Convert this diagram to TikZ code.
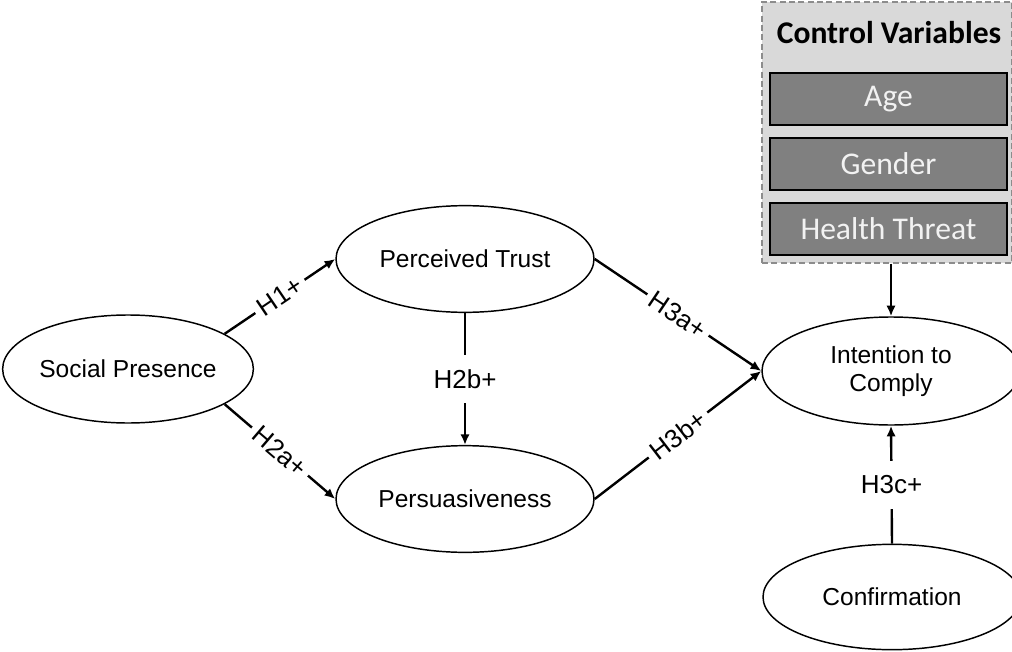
\documentclass[tikz,border=0pt]{standalone}
\usepackage{fontspec}
\setmainfont{Liberation Sans}
\newfontfamily\calibri{Carlito}
\usetikzlibrary{arrows.meta,shapes.geometric}

\begin{document}
\begin{tikzpicture}[x=0.75pt,y=-0.75pt,
	construct/.style={ellipse,draw,line width=1.1pt,fill=white,inner sep=0pt,align=center,
		minimum width=193.5pt,minimum height=80pt,font=\fontsize{18.4}{21}\selectfont},
	hyp/.style={fill=white,inner xsep=4pt,inner ysep=11pt,font=\fontsize{19.5}{22}\selectfont},
	link/.style={line width=1.8pt,-{Latex[length=8pt,width=7pt]}},
	ctrlbox/.style={draw=black!45,fill=black!15,line width=1pt,dash pattern=on 4.5pt off 2.5pt,
		minimum width=187.5pt,minimum height=195.75pt},
	ctrlitem/.style={draw,line width=1.1pt,fill=black!50,text=black!5,
		minimum width=177.75pt,minimum height=39pt,font=\calibri\fontsize{23.7}{26}\selectfont}]
	\useasboundingbox (0,0) rectangle (1012,652);

	\node[ctrlbox] (ctrl) at (887,132.5) {};
	\node[font=\calibri\bfseries\fontsize{23.7}{26}\selectfont] (ctrltitle) at (889,33) {Control Variables};
	\node[ctrlitem] (age) at (888.5,99) {Age};
	\node[ctrlitem] (gender) at (888.5,164) {Gender};
	\node[ctrlitem] (threat) at (888.5,229) {Health Threat};

	\node[construct,minimum width=175.5pt,minimum height=81pt] (sp) at (128,369) {Social Presence};
	\node[construct] (pt) at (465,259) {Perceived Trust};
	\node[construct] (pers) at (465,499) {Persuasiveness};
	\node[construct,minimum height=81pt] (ic) at (891,371) {Intention to\\Comply};
	\node[construct,minimum height=79pt] (conf) at (892,597) {Confirmation};

	\draw[link] (sp.20) -- node[hyp,sloped] {H1+} (pt.west);
	\draw[link] (sp.-20) -- node[hyp,sloped] {H2a+} (pers.west);
	\draw[link] (pt.south) -- node[hyp] {H2b+} (pers.north);
	\draw[link] (pt.east) -- node[hyp,sloped] {H3a+} (ic.west);
	\draw[link] (pers.east) -- node[hyp,sloped] {H3b+} (ic.west);
	\draw[link] (conf.north) -- node[hyp] {H3c+} (ic.south);
	\draw[link] (ctrl.south -| ic.north) -- (ic.north);
\end{tikzpicture}
\end{document}
